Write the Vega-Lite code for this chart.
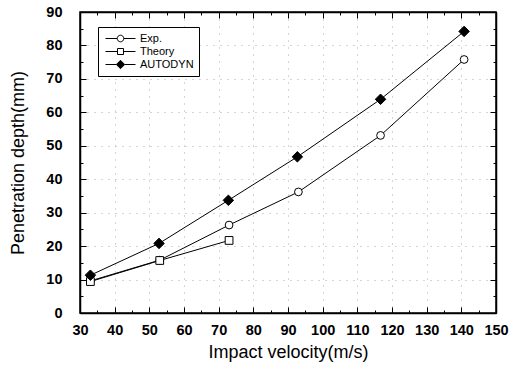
{
  "$schema": "https://vega.github.io/schema/vega-lite/v6.json",
  "width": 416,
  "height": 301,
  "autosize": {"type": "none"},
  "padding": {"left": 80, "top": 12, "right": 26, "bottom": 56},
  "background": "white",
  "config": {
    "view": {"stroke": "black", "strokeWidth": 1.5},
    "font": "Liberation Sans",
    "axis": {
      "domainColor": "black",
      "domainWidth": 1.5,
      "tickColor": "black",
      "tickWidth": 1,
      "labelColor": "black",
      "titleColor": "black",
      "labelFont": "Liberation Sans",
      "titleFont": "Liberation Sans",
      "labelFontSize": 14.5,
      "labelFontWeight": "bold",
      "labelFlush": false,
      "labelOverlap": false,
      "titleFontSize": 18,
      "titleFontWeight": "normal",
      "gridColor": "#aaaaaa",
      "gridDash": [1, 6],
      "gridWidth": 1
    }
  },
  "data": {
    "values": [
      {"series": "Exp.", "velocity": 33, "depth": 9.6},
      {"series": "Exp.", "velocity": 53, "depth": 15.8},
      {"series": "Exp.", "velocity": 73, "depth": 26.3},
      {"series": "Exp.", "velocity": 93, "depth": 36.2},
      {"series": "Exp.", "velocity": 116.7, "depth": 53.1},
      {"series": "Exp.", "velocity": 140.8, "depth": 75.8},
      {"series": "Theory", "velocity": 33, "depth": 9.4},
      {"series": "Theory", "velocity": 53, "depth": 15.7},
      {"series": "Theory", "velocity": 73, "depth": 21.7},
      {"series": "AUTODYN", "velocity": 33, "depth": 11.3},
      {"series": "AUTODYN", "velocity": 52.8, "depth": 20.8},
      {"series": "AUTODYN", "velocity": 72.8, "depth": 33.7},
      {"series": "AUTODYN", "velocity": 92.7, "depth": 46.7},
      {"series": "AUTODYN", "velocity": 116.7, "depth": 63.9},
      {"series": "AUTODYN", "velocity": 140.8, "depth": 84.2}
    ]
  },
  "resolve": {"axis": {"x": "independent", "y": "independent"}},
  "layer": [
    {
      "mark": {"type": "line", "color": "black", "strokeWidth": 1},
      "encoding": {
        "x": {
          "field": "velocity", "type": "quantitative",
          "scale": {"domain": [30, 150], "nice": false, "zero": false},
          "axis": {
            "orient": "bottom",
            "title": "Impact velocity(m/s)",
            "values": [30,35,40,45,50,55,60,65,70,75,80,85,90,95,100,105,110,115,120,125,130,135,140,145,150],
            "labelExpr": "datum.value % 10 == 0 ? datum.label : ''",
            "tickSize": {"condition": {"test": "datum.value % 10 == 0", "value": -6}, "value": -3},
            "labelPadding": 16,
            "grid": true,
            "gridOpacity": {"condition": {"test": "datum.value % 10 == 0 && datum.value > 30 && datum.value < 150", "value": 1}, "value": 0},
            "titlePadding": 4
          }
        },
        "y": {
          "field": "depth", "type": "quantitative",
          "scale": {"domain": [0, 90], "nice": false},
          "axis": {
            "orient": "left",
            "title": "Penetration depth(mm)",
            "values": [0,5,10,15,20,25,30,35,40,45,50,55,60,65,70,75,80,85,90],
            "labelExpr": "datum.value % 10 == 0 ? datum.label : ''",
            "tickSize": {"condition": {"test": "datum.value % 10 == 0", "value": -6}, "value": -3},
            "labelPadding": 24,
            "grid": true,
            "gridOpacity": {"condition": {"test": "datum.value % 10 == 0 && datum.value > 0 && datum.value < 90", "value": 1}, "value": 0},
            "titlePadding": 18
          }
        },
        "detail": {"field": "series"}
      }
    },
    {
      "mark": {"type": "point", "filled": true, "stroke": "black", "strokeWidth": 1, "opacity": 1},
      "encoding": {
        "x": {
          "field": "velocity", "type": "quantitative",
          "axis": {
            "orient": "top", "title": null, "labels": false, "grid": false,
            "values": [30,35,40,45,50,55,60,65,70,75,80,85,90,95,100,105,110,115,120,125,130,135,140,145,150],
            "tickSize": {"condition": {"test": "datum.value % 10 == 0", "value": -6}, "value": -3}
          }
        },
        "y": {
          "field": "depth", "type": "quantitative",
          "axis": {
            "orient": "right", "title": null, "labels": false, "grid": false,
            "values": [0,5,10,15,20,25,30,35,40,45,50,55,60,65,70,75,80,85,90],
            "tickSize": {"condition": {"test": "datum.value % 10 == 0", "value": -6}, "value": -3}
          }
        },
        "shape": {
          "condition": [
            {"test": "datum.series == 'AUTODYN'", "value": "diamond"},
            {"test": "datum.series == 'Theory'", "value": "square"}
          ],
          "value": "circle"
        },
        "fill": {
          "condition": {"test": "datum.series == 'AUTODYN'", "value": "black"},
          "value": "white"
        },
        "size": {
          "condition": {"test": "datum.series == 'AUTODYN'", "value": 110},
          "value": 60
        }
      }
    },
    {
      "transform": [{"filter": "false"}],
      "mark": {"type": "point", "filled": false, "stroke": "black", "strokeWidth": 1, "opacity": 1},
      "encoding": {
        "x": {"field": "velocity", "type": "quantitative", "axis": null},
        "y": {"field": "depth", "type": "quantitative", "axis": null},
        "shape": {
          "field": "series", "type": "nominal",
          "scale": {
            "domain": ["Exp.", "Theory", "AUTODYN"],
            "range": [
              "M-2.5,0L-0.55,0M0.55,0L2.5,0M0.55,0A0.55,0.55,0,1,1,-0.55,0A0.55,0.55,0,1,1,0.55,0Z",
              "M-2.5,0L-0.5,0M0.5,0L2.5,0M-0.5,-0.5L0.5,-0.5L0.5,0.5L-0.5,0.5Z",
              "M-2.5,0L-0.7,0M0.7,0L2.5,0M0,-0.7L0.7,0L0,0.7L-0.7,0Z"
            ]
          },
          "legend": {
            "title": null,
            "orient": "none",
            "legendX": 18,
            "legendY": 15,
            "strokeColor": "black",
            "fillColor": "white",
            "padding": 5,
            "rowPadding": 1,
            "labelFont": "Liberation Sans",
            "labelFontSize": 11,
            "labelColor": "black",
            "symbolSize": 144,
            "symbolOffset": 11,
            "labelOffset": 13,
            "symbolStrokeColor": "black",
            "symbolStrokeWidth": 1,
            "symbolOpacity": 1,
            "encode": {
              "symbols": {
                "update": {
                  "stroke": {"value": "black"},
                  "strokeWidth": {"value": 1}
                }
              }
            }
          }
        },
        "fill": {
          "field": "series", "type": "nominal",
          "scale": {"domain": ["Exp.", "Theory", "AUTODYN"], "range": ["white", "white", "black"]},
          "legend": {
            "title": null,
            "orient": "none",
            "legendX": 18,
            "legendY": 15,
            "strokeColor": "black",
            "fillColor": "white",
            "padding": 5,
            "rowPadding": 1,
            "labelFont": "Liberation Sans",
            "labelFontSize": 11,
            "labelColor": "black",
            "symbolSize": 144,
            "symbolOffset": 11,
            "labelOffset": 13,
            "symbolStrokeColor": "black",
            "symbolStrokeWidth": 1,
            "symbolOpacity": 1,
            "encode": {
              "symbols": {
                "update": {
                  "stroke": {"value": "black"},
                  "strokeWidth": {"value": 1}
                }
              }
            }
          }
        }
      }
    }
  ]
}
